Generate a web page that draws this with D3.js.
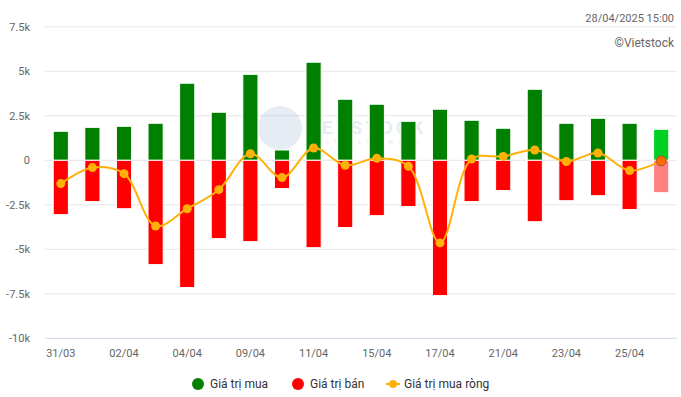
<!DOCTYPE html>
<html>
<head>
<meta charset="utf-8">
<script src="https://cdn.jsdelivr.net/npm/d3@7"></script>
<style>
  body { margin: 0; background: #fff; }
  svg { font-family: Roboto, "Noto Sans", sans-serif; }
</style>
</head>
<body>
<div id="chart"></div>
<script>
// data (ty dong)
var dates = ['31/03','01/04','02/04','03/04','04/04','08/04','09/04','10/04','11/04','14/04',
             '15/04','16/04','17/04','18/04','21/04','22/04','23/04','24/04','25/04','28/04']
var buyVals = [1630,1850,1910,2080,4330,2700,4830,580,5510,3430,
               3150,2190,2870,2250,1800,3990,2080,2360,2080,1740]
var sellVals = [-3050,-2320,-2720,-5860,-7150,-4400,-4570,-1590,-4910,-3780,
                -3110,-2600,-7600,-2320,-1700,-3450,-2270,-1990,-2770,-1820]
var netVals = [-1310,-410,-750,-3690,-2720,-1650,370,-970,690,-280,
               110,-340,-4640,70,220,580,-70,410,-580,-30]
var yTicks = [-10000,-7500,-5000,-2500,0,2500,5000,7500]

var width = 681, height = 397
var pLeft = 45, pRight = 677, pTop = 26.8, pBottom = 338.3

var svg = d3.select('#chart').append('svg')
    .attr('width', width)
    .attr('height', height)

var x = d3.scaleBand().domain(dates).range([pLeft, pRight])
    .paddingInner(0.52).paddingOuter(0.26)
var y = d3.scaleLinear().domain([-10000, 7500]).range([pBottom, pTop])

const fmt = v => v === 0 ? '0' : (v/1000) + 'k'

// grid
svg.append('g').selectAll('line')
  .data(yTicks.filter(d => d !== -10000))
  .join('line')
    .attr('x1', pLeft).attr('x2', pRight)
    .attr('y1', d => y(d)).attr('y2', d => y(d))
    .attr('stroke', '#e6e6e6')
svg.append('line')
    .attr('x1', pLeft).attr('x2', pRight)
    .attr('y1', y(-10000)).attr('y2', y(-10000))
    .attr('stroke', '#ccd6eb')

// y labels
svg.append('g').selectAll('text')
  .data(yTicks)
  .join('text')
    .attr('x', 30).attr('y', d => y(d) + 4)
    .attr('text-anchor', 'end')
    .attr('font-size', 11)
    .attr('fill', '#666')
    .text(fmt)

// x labels, every other
svg.append('g').selectAll('text')
  .data(dates.filter((d,i) => i % 2 === 0))
  .join('text')
    .attr('x', d => x(d) + x.bandwidth()/2)
    .attr('y', 357)
    .attr('text-anchor', 'middle')
    .attr('font-size', 11)
    .attr('fill', '#666')
    .text(d => d)

// watermark
var wm = svg.append('g').attr('opacity', 0.12)
wm.append('circle').attr('cx', 280).attr('cy', 128).attr('r', 22).attr('fill', '#3a6ea5')
wm.append('text').attr('x', 322).attr('y', 134).attr('font-size', 19).attr('font-weight', 'bold')
  .attr('fill', '#3a6ea5').attr('letter-spacing', 3).text('ETSTOCK')
wm.append('text').attr('x', 325).attr('y', 144).attr('font-size', 7).attr('fill', '#555')
  .attr('letter-spacing', 5).text('efresh   lways')

var last = dates.length - 1

// buy bars
svg.append('g').selectAll('rect')
  .data(buyVals)
  .join('rect')
    .attr('x', (d,i) => x(dates[i]))
    .attr('width', x.bandwidth())
    .attr('y', d => y(d))
    .attr('height', d => y(0) - y(d))
    .attr('fill', (d,i) => i === last ? '#00d021' : '#008000')
    .attr('stroke', '#fff').attr('stroke-width', 1)

// sell bars
svg.append('g').selectAll('rect')
  .data(sellVals)
  .join('rect')
    .attr('x', (d,i) => x(dates[i]))
    .attr('width', x.bandwidth())
    .attr('y', y(0))
    .attr('height', d => y(d) - y(0))
    .attr('fill', (d,i) => i === last ? '#ff8080' : '#ff0000')
    .attr('stroke', '#fff').attr('stroke-width', 1)

// net line
var cx = (d,i) => x(dates[i]) + x.bandwidth()/2
var line = d3.line().x(cx).y(d => y(d)).curve(d3.curveCatmullRom.alpha(0.5))
svg.append('path')
    .datum(netVals)
    .attr('d', line)
    .attr('fill', 'none')
    .attr('stroke', '#ffb10a')
    .attr('stroke-width', 2)

svg.append('g').selectAll('circle')
  .data(netVals)
  .join('circle')
    .attr('cx', cx)
    .attr('cy', d => y(d))
    .attr('r', (d,i) => i === last ? 5 : 4.5)
    .attr('fill', (d,i) => i === last ? '#ff6a00' : '#ffb10a')
    .attr('stroke', (d,i) => i === last ? '#a0522d' : 'none')
    .attr('stroke-width', 1)

// top right texts
svg.append('text').attr('x', 674).attr('y', 22).attr('text-anchor', 'end')
  .attr('font-size', 11).attr('fill', '#666').text('28/04/2025 15:00')
svg.append('text').attr('x', 674).attr('y', 47).attr('text-anchor', 'end')
  .attr('font-size', 12).attr('fill', '#666').text('©Vietstock')

// legend
var lg = svg.append('g').attr('font-size', 12).attr('fill', '#333')
lg.append('circle').attr('cx', 198).attr('cy', 384).attr('r', 6).attr('fill', '#008000')
lg.append('text').attr('x', 210).attr('y', 388).text('Giá trị mua')
lg.append('circle').attr('cx', 298).attr('cy', 384).attr('r', 6).attr('fill', '#ff0000')
lg.append('text').attr('x', 310).attr('y', 388).text('Giá trị bán')
lg.append('line').attr('x1', 386).attr('x2', 400).attr('y1', 384).attr('y2', 384)
  .attr('stroke', '#ffb10a').attr('stroke-width', 2)
lg.append('circle').attr('cx', 393).attr('cy', 384).attr('r', 4).attr('fill', '#ffb10a')
lg.append('text').attr('x', 404).attr('y', 388).text('Giá trị mua ròng')
</script>
</body>
</html>
